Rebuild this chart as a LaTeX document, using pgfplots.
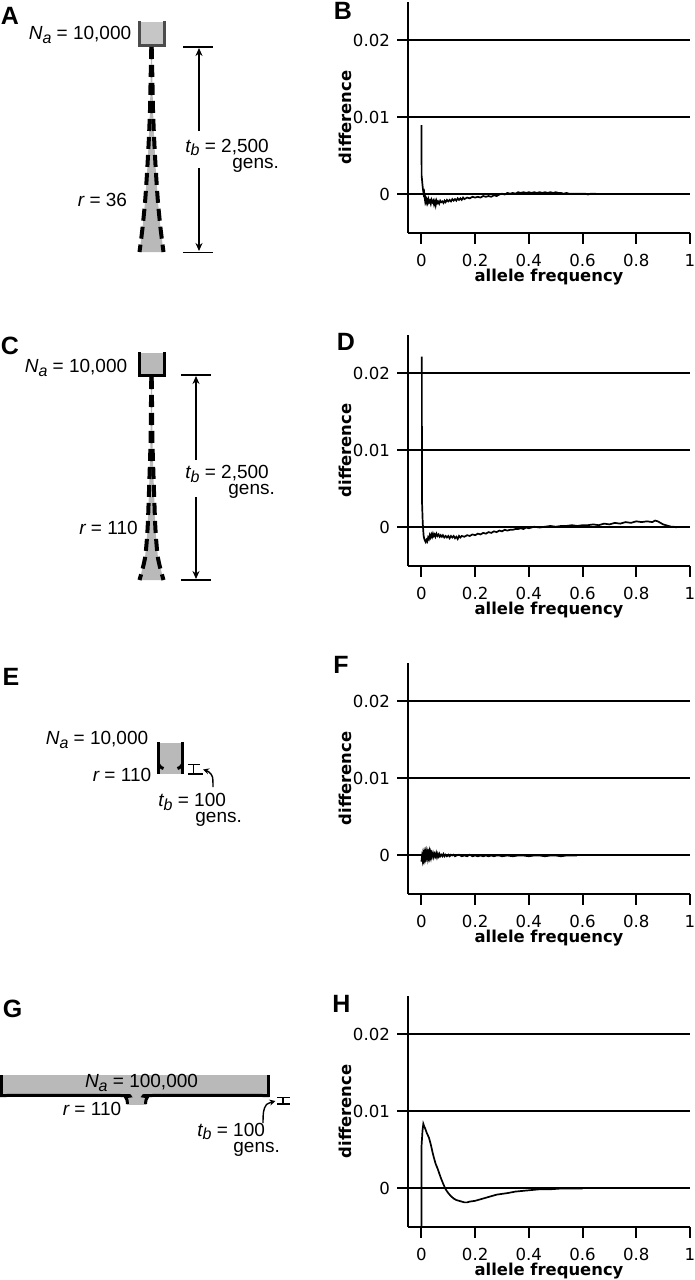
\documentclass[border=0pt]{standalone}
\usepackage{fontspec}
\setmainfont{DejaVu Sans}
\newfontfamily\hv{Liberation Sans}
\usepackage{pgfplots}
\pgfplotsset{compat=1.18}
\usetikzlibrary{arrows.meta}

% diagram text (Helvetica-like)
\newcommand\hvf{\hv\fontsize{9.5}{11}\selectfont}
\newcommand\lbl[3]{{\hvf\itshape #1\raisebox{-0.35ex}{\fontsize{8}{9}\selectfont #2}\upshape{} = #3}}

\pgfplotsset{
  diff/.style={
    scale only axis, width=141pt, height=115.5pt,
    xmin=-0.05, xmax=1, ymin=-0.005, ymax=0.025,
    axis lines*=left, axis line style={line width=1pt,-},
    xtick={0,0.2,0.4,0.6,0.8,1}, xticklabels={0,0.2,0.4,0.6,0.8,1},
    ytick={0,0.01,0.02}, yticklabels={0,0.01,0.02},
    scaled x ticks=false, scaled y ticks=false,
    tick align=outside, major tick length=5.5pt,
    tick style={line width=1pt,black},
    ymajorgrids, major grid style={line width=1pt,black},
    tick label style={font=\fontsize{8.3}{9}\selectfont},
    xticklabel style={yshift=-1.5pt},
    xlabel={allele frequency}, ylabel={difference},
    label style={font=\fontsize{8.2}{9}\selectfont\bfseries},
    xlabel style={at={([yshift=-22pt]axis description cs:0.5,0)}, anchor=center},
    ylabel style={at={([xshift=-31.5pt]axis description cs:0,0.5)}, anchor=center},
  },
  curve/.style={black, line width=0.85pt},
  dsh/.style={black, line width=2pt, dash pattern=on 6pt off 3pt, smooth},
  brd/.style={black, line width=1.5pt},
  thin/.style={black, line width=0.8pt},
  tip/.style={thin, -{Stealth[length=4pt,width=3.5pt]}},
  stip/.style={black, line width=0.7pt, smooth, -{Stealth[length=3pt,width=3pt]}},
}
\tikzset{two/.style={anchor=west, align=left, inner sep=0pt}}

\begin{document}
\begin{tikzpicture}
\path[use as bounding box] (0,0) rectangle (347.5pt,640pt);

% canvas in pixel units for the schematic diagrams
\begin{axis}[at={(0,0)}, anchor=south west, scale only axis, width=347.5pt, height=640pt,
  xmin=0, xmax=695, ymin=0, ymax=1280, y dir=reverse, hide axis, clip=false]

% ---- A ----
\addplot[fill=gray!45, draw=none] coordinates {(139,22)(165,22)(165,46)(139,46)};
\addplot[brd, draw=black!70] coordinates {(139.5,21)(139.5,45.5)(164.5,45.5)(164.5,21)};
\addplot[fill=gray!55, draw=none] coordinates {(151,47)(150.6,80)(150,110)(148.8,140)(147.2,170)(145.2,200)(142.5,228)(139.5,252)
  (163.5,252)(160.5,228)(157.8,200)(155.8,170)(154.2,140)(153,110)(152.4,80)(152,47)};
\addplot[dsh] coordinates {(151.3,47)(150.6,80)(150,110)(148.8,140)(147.2,170)(145.2,200)(142.5,228)(139.5,252)};
\addplot[dsh] coordinates {(151.7,47)(152.4,80)(153,110)(154.2,140)(155.8,170)(157.8,200)(160.5,228)(163.5,252)};
\addplot[thin] coordinates {(183,46.7)(213,46.7)};
\addplot[thin] coordinates {(183,252.5)(213,252.5)};
\addplot[tip] coordinates {(199,131)(199,48)};
\addplot[tip] coordinates {(199,168)(199,251)};
\node at (axis cs:80,35) {\lbl{N}{a}{10,000}};
\node at (axis cs:102.5,201.7) {\lbl{r}{}{36}};
\node[two, font={\hv\fontsize{9.5}{8}\selectfont}] at (axis cs:185,155.5) {\lbl{t}{b}{2,500}\\\hspace*{23.5pt}gens.};

% ---- C ----
\addplot[fill=gray!55, draw=none] coordinates {(139,353)(165,353)(165,376)(139,376)};
\addplot[brd] coordinates {(139.5,352)(139.5,375.5)(164.5,375.5)(164.5,352)};
\addplot[fill=gray!55, draw=none] coordinates {(151,377)(150.9,410)(150.6,440)(149.7,470)(148.7,500)(147.5,530)(145,558)(139.5,580)
  (163.5,580)(158,558)(155.5,530)(154.3,500)(153.3,470)(152.4,440)(152.1,410)(152,377)};
\addplot[dsh] coordinates {(151.3,377)(150.9,410)(150.6,440)(149.7,470)(148.7,500)(147.5,530)(145,558)(139.5,580)};
\addplot[dsh] coordinates {(151.7,377)(152.1,410)(152.4,440)(153.3,470)(154.3,500)(155.5,530)(158,558)(163.5,580)};
\addplot[thin] coordinates {(181,375)(211,375)};
\addplot[thin] coordinates {(181,580)(211,580)};
\addplot[tip] coordinates {(196,460)(196,376)};
\addplot[tip] coordinates {(196,497)(196,579)};
\node at (axis cs:76,368) {\lbl{N}{a}{10,000}};
\node at (axis cs:108.5,530) {\lbl{r}{}{110}};
\node[two, font={\hv\fontsize{9.5}{8}\selectfont}] at (axis cs:185,482) {\lbl{t}{b}{2,500}\\\hspace*{21.5pt}gens.};

% ---- E ----
\addplot[fill=gray!55, draw=none] coordinates {(159,743)(182,743)(182,774)(159,774)};
\addplot[brd] coordinates {(158.5,742)(158.5,773.5)};
\addplot[brd, smooth] coordinates {(158.5,764)(160.5,767)(163.5,768.5)};
\addplot[brd] coordinates {(182.5,742)(182.5,773.5)};
\addplot[brd, smooth] coordinates {(182.5,764)(180.5,767)(177.5,768.5)};
\addplot[black, line width=0.6pt] coordinates {(188,764.5)(200,764.5)};
\addplot[black, line width=0.6pt] coordinates {(188,774)(203,774)};
\addplot[black, line width=0.6pt] coordinates {(193.5,764.5)(193.5,774)};
\addplot[stip] coordinates {(213,787)(212.5,777)(209,772)(203,769.5)};
\node at (axis cs:97,740) {\lbl{N}{a}{10,000}};
\node at (axis cs:122,777) {\lbl{r}{}{110}};
\node[two, font={\hv\fontsize{9.5}{8}\selectfont}] at (axis cs:158,810) {\lbl{t}{b}{100}\\\hspace*{18.5pt}gens.};

% ---- G ----
\addplot[fill=gray!55, draw=none] coordinates {(0,1075)(270,1075)(270,1096)(0,1096)};
\addplot[fill=gray!55, draw=none] coordinates {(127,1096)(146,1096)(146,1105)(127,1105)};
\addplot[brd] coordinates {(1.5,1075)(1.5,1096.5)};
\addplot[brd] coordinates {(268.5,1075)(268.5,1096.5)};
\addplot[brd, smooth] coordinates {(0,1095.5)(122,1095.5)(125.5,1097)(127,1100)(127.5,1104)};
\addplot[brd, smooth] coordinates {(145.5,1104)(146,1100)(147.5,1097)(151,1095.5)(269,1095.5)};
\addplot[black, line width=0.6pt] coordinates {(277,1097.5)(290,1097.5)};
\addplot[black, line width=0.6pt] coordinates {(277,1104)(290,1104)};
\addplot[black, line width=0.6pt] coordinates {(283,1097.5)(283,1104)};
\addplot[stip] coordinates {(263,1123)(263.5,1112)(266.5,1104.5)(275.5,1101)};
\node at (axis cs:141.5,1083) {\lbl{N}{a}{100,000}};
\node at (axis cs:92,1111) {\lbl{r}{}{110}};
\node[two, font={\hv\fontsize{9.5}{8}\selectfont}] at (axis cs:197,1139.5) {\lbl{t}{b}{100}\\\hspace*{18pt}gens.};

% panel letters
\foreach \lx/\ly/\lt in {10/16/A, 343/11/B, 10/346/C, 346/342/D, 11/677/E, 341/665/F, 12.5/1009/G, 341.5/1004/H}{
  \edef\tmp{\noexpand\node[font=\noexpand\hv\noexpand\fontsize{12.5}{13}\noexpand\selectfont\noexpand\bfseries] at (axis cs:\lx,\ly) {\lt};}
  \tmp
}
\end{axis}

% ---- B ----
\begin{axis}[diff, at={(204pt,523.5pt)}, anchor=south west]
\addplot[curve] coordinates {
(0.000,0.0090)(0.0008,0.0024)(0.002,0.0020)(0.004,0.0012)(0.006,0.0006)(0.008,0.0001)(0.010,0.0003)
(0.012,-0.0004)(0.014,-0.0009)(0.016,-0.0006)(0.018,-0.0010)(0.020,-0.0007)(0.023,-0.0011)(0.026,-0.0006)
(0.029,-0.0010)(0.032,-0.0008)(0.035,-0.0012)(0.038,-0.0007)(0.041,-0.0010)(0.044,-0.0008)(0.047,-0.0013)
(0.050,-0.0009)(0.053,-0.0014)(0.056,-0.0008)(0.059,-0.0011)(0.062,-0.0009)(0.066,-0.0012)(0.070,-0.0008)
(0.074,-0.0010)(0.078,-0.0009)(0.082,-0.0011)(0.086,-0.0008)(0.090,-0.0010)(0.095,-0.0007)(0.100,-0.0009)
(0.105,-0.0007)(0.110,-0.0009)(0.115,-0.0006)(0.120,-0.0008)(0.125,-0.0006)(0.130,-0.0008)(0.135,-0.0005)
(0.140,-0.0007)(0.145,-0.0005)(0.150,-0.0007)(0.155,-0.0004)(0.160,-0.0006)(0.170,-0.0004)(0.180,-0.0005)
(0.190,-0.0003)(0.200,-0.0004)(0.210,-0.0003)(0.220,-0.0004)(0.230,-0.0002)(0.240,-0.0003)(0.250,-0.0002)
(0.260,-0.0003)(0.270,-0.0001)(0.280,-0.0002)(0.290,0.0000)(0.300,0.0001)(0.310,0.0000)(0.320,0.0002)
(0.330,0.0001)(0.340,0.0002)(0.350,0.0001)(0.360,0.0003)(0.370,0.0002)(0.380,0.0003)(0.390,0.0002)
(0.400,0.0003)(0.410,0.0002)(0.420,0.0003)(0.430,0.0002)(0.440,0.0003)(0.450,0.0002)(0.460,0.0003)
(0.470,0.0002)(0.480,0.0003)(0.490,0.0002)(0.500,0.0003)(0.510,0.0002)(0.520,0.0002)(0.530,0.0001)
(0.540,0.0002)(0.550,0.0001)(0.560,0.0001)(0.570,0.0001)(0.580,0.0001)(0.590,0.0001)(0.600,0.0001)
(0.610,0.0001)(0.620,0.0000)(0.630,0.0001)(0.640,0.0001)(0.650,0.0001)};
\end{axis}

% ---- D ----
\begin{axis}[diff, at={(204pt,357pt)}, anchor=south west]
\addplot[curve] coordinates {
(0.0015,0.0222)(0.0020,0.0035)(0.005,0.0005)(0.008,-0.0010)(0.010,-0.0014)
(0.013,-0.0017)(0.016,-0.0019)(0.019,-0.0016)(0.022,-0.0018)(0.025,-0.0013)(0.028,-0.0015)(0.031,-0.0010)
(0.034,-0.0013)(0.037,-0.0009)(0.040,-0.0012)(0.043,-0.0008)(0.046,-0.0011)(0.049,-0.0009)(0.052,-0.0012)
(0.056,-0.0008)(0.060,-0.0011)(0.064,-0.0009)(0.068,-0.0012)(0.072,-0.0010)(0.076,-0.0012)(0.080,-0.0010)
(0.085,-0.0013)(0.090,-0.0011)(0.095,-0.0013)(0.100,-0.0011)(0.105,-0.0014)(0.110,-0.0011)(0.115,-0.0013)
(0.120,-0.0011)(0.125,-0.0014)(0.130,-0.0012)(0.135,-0.0015)(0.140,-0.0011)(0.145,-0.0013)(0.150,-0.0011)
(0.160,-0.0012)(0.170,-0.0010)(0.180,-0.0011)(0.190,-0.0009)(0.200,-0.0010)(0.210,-0.0008)(0.220,-0.0009)
(0.230,-0.0007)(0.240,-0.0008)(0.250,-0.0006)(0.260,-0.0007)(0.270,-0.0005)(0.280,-0.0006)(0.290,-0.0004)
(0.300,-0.0005)(0.310,-0.0003)(0.320,-0.0004)(0.330,-0.0003)(0.340,-0.0003)(0.350,-0.0002)(0.360,-0.0002)
(0.370,-0.0001)(0.380,-0.0002)(0.390,0.0000)(0.400,-0.0001)(0.420,0.0001)(0.440,0.0000)(0.460,0.0001)
(0.480,0.0002)(0.500,0.0001)(0.520,0.0002)(0.540,0.0002)(0.560,0.0003)(0.580,0.0002)(0.600,0.0003)
(0.620,0.0003)(0.640,0.0004)(0.660,0.0003)(0.680,0.0005)(0.700,0.0004)(0.720,0.0006)(0.740,0.0005)
(0.760,0.0007)(0.780,0.0006)(0.800,0.0008)(0.820,0.0007)(0.840,0.0008)(0.860,0.0007)(0.870,0.0009)
(0.880,0.0008)(0.890,0.0006)(0.900,0.0004)(0.910,0.0003)(0.920,0.0002)(0.930,0.0001)(0.940,0.0001)(0.950,0.0000)};
\end{axis}

% ---- F ----
\begin{axis}[diff, at={(204pt,193pt)}, anchor=south west]
\addplot[curve] coordinates {
(0.000,-0.0008)(0.002,-0.0002)(0.004,-0.0006)(0.006,0.0001)(0.008,-0.0004)(0.010,0.0002)(0.012,-0.0003)
(0.014,0.0003)(0.016,-0.0002)(0.018,0.0004)(0.020,-0.0001)(0.022,0.0003)(0.024,-0.0003)(0.026,0.0002)
(0.028,-0.0002)(0.030,0.0004)(0.032,-0.0001)(0.034,0.0003)(0.036,-0.0002)(0.038,0.0002)(0.040,-0.0001)
(0.043,0.0003)(0.046,-0.0002)(0.049,0.0002)(0.052,-0.0001)(0.055,0.0003)(0.058,-0.0002)(0.061,0.0002)
(0.064,-0.0001)(0.067,0.0002)(0.070,-0.0001)(0.074,0.0001)(0.078,-0.0001)(0.082,0.0002)(0.086,-0.0001)
(0.090,0.0001)(0.095,-0.0001)(0.100,0.0001)(0.105,-0.0001)(0.110,0.0001)(0.115,0.0000)(0.120,0.0001)
(0.125,-0.0001)(0.130,0.0000)(0.140,0.0001)(0.150,-0.0001)(0.160,0.0000)(0.170,-0.0001)(0.180,0.0001)
(0.190,-0.0001)(0.200,0.0000)(0.210,-0.0001)(0.220,0.0000)(0.230,-0.0001)(0.240,0.0000)(0.250,-0.0001)
(0.260,0.0000)(0.270,-0.0001)(0.280,0.0000)(0.290,0.0000)(0.300,-0.0001)(0.320,0.0000)(0.340,-0.0001)
(0.360,0.0000)(0.380,0.0000)(0.400,-0.0001)(0.420,0.0000)(0.440,0.0000)(0.460,-0.0001)(0.480,0.0000)
(0.500,0.0000)(0.520,-0.0001)(0.540,0.0000)(0.560,0.0000)(0.580,0.0000)};
\end{axis}

% ---- H ----
\begin{axis}[diff, at={(204pt,26.5pt)}, anchor=south west]
\addplot[curve] coordinates {
(0.000,-0.0060)(0.000,0.0053)(0.004,0.0075)(0.007,0.0084)(0.010,0.0081)(0.015,0.0077)(0.020,0.0072)
(0.028,0.0066)(0.035,0.0057)(0.042,0.0046)(0.048,0.0038)(0.053,0.0032)(0.060,0.0026)(0.066,0.0020)
(0.072,0.0014)(0.080,0.0007)(0.090,-0.0001)(0.100,-0.0006)(0.110,-0.0010)(0.120,-0.0013)(0.130,-0.0015)
(0.140,-0.0016)(0.150,-0.0017)(0.160,-0.0018)(0.170,-0.0018)(0.180,-0.0017)(0.200,-0.0016)(0.220,-0.0014)
(0.240,-0.0012)(0.260,-0.0010)(0.280,-0.0008)(0.300,-0.0007)(0.320,-0.0006)(0.350,-0.0004)(0.380,-0.0003)
(0.410,-0.0002)(0.440,-0.0001)(0.480,-0.0001)(0.520,0.0000)(0.560,0.0000)(0.600,0.0000)};
\end{axis}
\end{tikzpicture}
\end{document}
